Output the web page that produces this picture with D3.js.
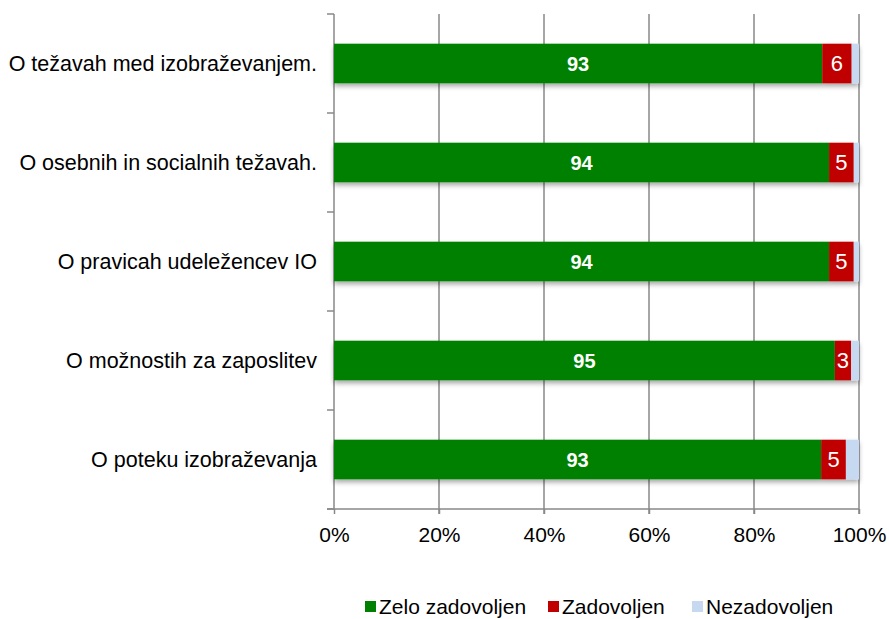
<!DOCTYPE html>
<html><head><meta charset="utf-8">
<script src="https://cdn.jsdelivr.net/npm/d3@7"></script>
<style>body{margin:0;background:#fff}svg{display:block}text{font-family:"Liberation Sans",Arial,sans-serif}</style>
</head><body><svg id="c" width="889" height="619"></svg>
<script>
const categories = ["O težavah med izobraževanjem.","O osebnih in socialnih težavah.","O pravicah udeležencev IO","O možnostih za zaposlitev","O poteku izobraževanja"];
const zeloZadovoljen = [93.0, 94.3, 94.3, 95.4, 92.8];
const zadovoljen = [5.6, 4.7, 4.7, 3.1, 4.7];
const nezadovoljen = [1.4, 1.0, 1.0, 1.5, 2.5];
const seriesNames = ["Zelo zadovoljen","Zadovoljen","Nezadovoljen"];
const colors = ["#008000","#C00000","#C6D9F1"];
const ticks = [0,20,40,60,80,100];

const svg = d3.select("#c");
const x = d3.scaleLinear().domain([0,100]).range([334,859]);
const y = d3.scaleBand().domain(categories).range([14,509]).paddingInner(0.6).paddingOuter(0.3);
const yb = d3.scaleBand().domain(categories).range([14,509]);

const defs = svg.append("defs");
const f = defs.append("filter").attr("id","sh").attr("x","-5%").attr("y","-20%").attr("width","110%").attr("height","160%");
f.append("feGaussianBlur").attr("in","SourceAlpha").attr("stdDeviation",2.5);
f.append("feOffset").attr("dx",0).attr("dy",3).attr("result","ob");
f.append("feComponentTransfer").append("feFuncA").attr("type","linear").attr("slope",0.35);
const m = f.append("feMerge"); m.append("feMergeNode"); m.append("feMergeNode").attr("in","SourceGraphic");

// gridlines
svg.append("g").selectAll("line").data(ticks.slice(1)).join("line")
  .attr("x1",d=>x(d)).attr("x2",d=>x(d)).attr("y1",14).attr("y2",514)
  .attr("stroke","#888").attr("stroke-width",1.5);

// x axis
const xa = svg.append("g").attr("transform","translate(0,509)")
  .call(d3.axisBottom(x).tickValues(ticks).tickFormat(d=>d+"%").tickSize(5).tickPadding(13));
xa.select(".domain").attr("stroke","#888").attr("stroke-width",1.5).attr("d","M327,0H859");
xa.selectAll(".tick line").attr("stroke","#888").attr("stroke-width",1.5);
xa.selectAll(".tick text").attr("font-size",21).attr("fill","#000").style("font-family","Liberation Sans, Arial, sans-serif");

// y axis
const ya = svg.append("g").attr("transform","translate(334,0)");
ya.append("line").attr("x1",0).attr("x2",0).attr("y1",14).attr("y2",509).attr("stroke","#888").attr("stroke-width",1.5);
ya.selectAll("line.t").data(d3.range(6)).join("line").attr("class","t")
  .attr("x1",-7).attr("x2",0).attr("y1",i=>14+i*yb.step()).attr("y2",i=>14+i*yb.step())
  .attr("stroke","#888").attr("stroke-width",1.5);
svg.append("g").selectAll("text").data(categories).join("text")
  .attr("x",317).attr("y",d=>yb(d)+yb.bandwidth()/2).attr("dy","0.35em")
  .attr("text-anchor","end").attr("font-size",21.5).attr("fill","#000").text(d=>d);

// stacked bars
const rows = categories.map((c,i)=>({cat:c, v:[zeloZadovoljen[i],zadovoljen[i],nezadovoljen[i]]}));
const gBars = svg.append("g");
rows.forEach(r=>{
  let acc=0;
  const g = gBars.append("g").attr("filter","url(#sh)");
  r.v.forEach((v,k)=>{
    g.append("rect").attr("x",x(acc)).attr("width",x(acc+v)-x(acc))
      .attr("y",y(r.cat)).attr("height",y.bandwidth()).attr("fill",colors[k]);
    acc+=v;
  });
});
// labels
rows.forEach(r=>{
  const cy = y(r.cat)+y.bandwidth()/2;
  svg.append("text").attr("x",(x(0)+x(r.v[0]))/2).attr("y",cy).attr("dy","0.36em")
    .attr("text-anchor","middle").attr("fill","#fff").attr("font-weight","bold").attr("font-size",20).text(Math.round(r.v[0]));
  svg.append("text").attr("x",(x(r.v[0])+x(r.v[0]+r.v[1]))/2).attr("y",cy).attr("dy","0.36em")
    .attr("text-anchor","middle").attr("fill","#fff").attr("font-size",22).text(Math.round(r.v[1]));
});

// legend
const legX = [365,548,692];
const lg = svg.append("g");
seriesNames.forEach((n,k)=>{
  lg.append("rect").attr("x",legX[k]).attr("y",601).attr("width",11).attr("height",11).attr("fill",colors[k]);
  lg.append("text").attr("x",legX[k]+14).attr("y",606).attr("dy","0.36em").attr("font-size",21).attr("fill","#000").text(n);
});
</script></body></html>
